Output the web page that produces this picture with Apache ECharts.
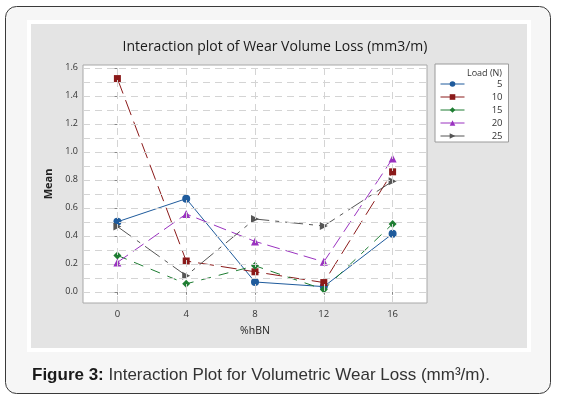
<!DOCTYPE html>
<html>
<head>
<meta charset="utf-8">
<script src="https://cdn.jsdelivr.net/npm/echarts@6/dist/echarts.min.js"></script>
<style>
html, body { margin: 0; padding: 0; background: #fff; }
#chart { width: 563px; height: 398px; }
</style>
</head>
<body>
<div id="chart"></div>
<script>
// categories (%hBN) and loads
var hbn = [0, 4, 8, 12, 16];
var loads = ['5', '10', '15', '20', '25'];
// mean wear volume loss per load
var load5 = [0.50, 0.665, 0.07, 0.037, 0.415];
var load10 = [1.523, 0.22, 0.143, 0.066, 0.857];
var load15 = [0.26, 0.057, 0.186, 0.017, 0.485];
var load20 = [0.21, 0.556, 0.36, 0.214, 0.952];
var load25 = [0.466, 0.115, 0.52, 0.47, 0.79];
// tick labels
var xTicks = [0, 4, 8, 12, 16];
var yTicks = [0, 0.2, 0.4, 0.6, 0.8, 1.0, 1.2, 1.4, 1.6];
var yGrid = [0, 0.1, 0.2, 0.3, 0.4, 0.5, 0.6, 0.7, 0.8, 0.9, 1.0, 1.1, 1.2, 1.3, 1.4, 1.5, 1.6];

var values = [load5, load10, load15, load20, load25];
var colors = ['#1f5b9c', '#8b1a1a', '#1e7d32', '#9a32c0', '#555555'];
var symbols = ['circle', 'rect', 'diamond', 'triangle', 'triangle'];
var rotates = [0, 0, 0, 0, -90];
var dashes = ['solid', [16, 7], [10, 8], [13, 6], [18, 6, 4, 6]];

function $each(arr, fn) {
	for (var i = 0; i < arr.length; i++) fn(arr[i], i);
}

var myChart = echarts.init(document.getElementById('chart'));

var series = [];
// 网格线
var gridData = [];
$each(yGrid, function(v) { gridData.push({ yAxis: v }); });
$each(xTicks, function(v) { gridData.push({ xAxis: v }); });
series.push({
	type: 'line',
	data: [],
	z: 1,
	silent: true,
	markLine: {
		silent: true,
		symbol: 'none',
		label: { show: false },
		lineStyle: { color: '#d4d4d4', type: [7, 5], width: 1 },
		data: gridData
	}
});

$each(loads, function(name, i) {
	var data = [];
	$each(hbn, function(x, j) { data.push([x, values[i][j]]); });
	series.push({
		name: name,
		type: 'line',
		z: 3,
		data: data,
		symbol: symbols[i],
		symbolRotate: rotates[i],
		symbolSize: i == 1 ? 7 : 8,
		color: colors[i],
		lineStyle: { width: 1, type: dashes[i], color: colors[i] },
		itemStyle: { color: colors[i] }
	});
});

var option = {
	animation: false,
	graphic: [
		{ type: 'rect', z: -10, shape: { x: 5.5, y: 6.5, width: 545, height: 387, r: 11 },
			style: { fill: '#f6f6f6', stroke: '#3a3a3a', lineWidth: 1 } },
		{ type: 'rect', z: -9, shape: { x: 27, y: 20, width: 504, height: 332 },
			style: { fill: '#ffffff' } },
		{ type: 'rect', z: -8, shape: { x: 31, y: 24, width: 496, height: 324 },
			style: { fill: '#e4e4e4' } },
		{ type: 'text', z: 10, style: {
			text: 'Interaction plot of Wear Volume Loss (mm3/m)', x: 275, y: 47,
			align: 'center', verticalAlign: 'middle',
			font: '14px "Open Sans", sans-serif', fill: '#1a1a1a' } },
		{ type: 'text', z: 10, style: {
			text: 'Load (N)', x: 502, y: 73, align: 'right', verticalAlign: 'middle',
			font: '9px "Open Sans", sans-serif', fill: '#333' } },
		{ type: 'text', z: 10, style: {
			text: '{b|Figure 3:} Interaction Plot for Volumetric Wear Loss (mm³/m).',
			x: 32, y: 375, verticalAlign: 'middle',
			rich: {
				b: { font: 'bold 17px "Liberation Sans", Arial, sans-serif', fill: '#1a1a1a' }
			},
			font: '17px "Liberation Sans", Arial, sans-serif', fill: '#333' } }
	],
	grid: {
		left: 83, top: 65, width: 344, height: 238,
		show: true, backgroundColor: '#fff', borderColor: '#a8a8a8', borderWidth: 1
	},
	legend: {
		orient: 'vertical',
		left: 435, top: 64,
		padding: [15, 6, 1, 5],
		itemGap: 3,
		itemWidth: 24, itemHeight: 7,
		backgroundColor: '#fff',
		borderColor: '#9a9a9a', borderWidth: 1, borderRadius: 0,
		lineStyle: { type: 'solid', width: 1 },
		data: loads,
		formatter: function(name) { return '{a|' + name + '}'; },
		textStyle: {
			lineHeight: 8,
			rich: { a: { width: 33, align: 'right', fontSize: 9.5, lineHeight: 8, color: '#333', fontFamily: 'Open Sans' } }
		}
	},
	xAxis: {
		type: 'value', min: -2, max: 18,
		name: '%hBN', nameLocation: 'middle', nameGap: 23,
		nameTextStyle: { fontSize: 10.5, color: '#222', fontFamily: 'Open Sans' },
		axisLine: { show: false },
		axisTick: { show: true, customValues: xTicks, length: 3, lineStyle: { color: '#888' } },
		axisLabel: { customValues: xTicks, fontSize: 9.5, color: '#333', margin: 6, fontFamily: 'Open Sans' },
		splitLine: { show: false }
	},
	yAxis: {
		type: 'value', min: -0.08, max: 1.62,
		name: 'Mean', nameLocation: 'middle', nameGap: 24,
		nameTextStyle: { fontSize: 11, fontWeight: 'bold', color: '#222', fontFamily: 'Open Sans' },
		axisLine: { show: false },
		axisTick: { show: true, customValues: yTicks, length: 3, lineStyle: { color: '#888' } },
		axisLabel: { customValues: yTicks, fontSize: 9, color: '#333', margin: 5, fontFamily: 'Open Sans',
			formatter: function(v) { return v.toFixed(1); } },
		splitLine: { show: false }
	},
	series: series
};
myChart.setOption(option);
</script>
</body>
</html>
